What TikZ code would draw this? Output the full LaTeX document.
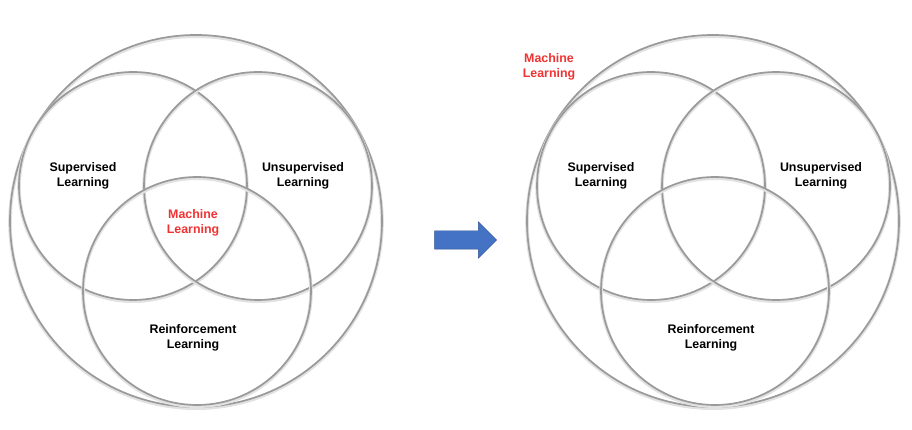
\documentclass[tikz,border=0pt]{standalone}
\usepackage{fontspec}
\setmainfont{Liberation Sans}
\usetikzlibrary{positioning, shapes.arrows}

\definecolor{ringgray}{HTML}{9A9A9A}
\definecolor{ringshade}{HTML}{E2E2E2}
\definecolor{mlred}{HTML}{F03232}
\definecolor{arrowblue}{HTML}{4472C4}
\definecolor{arrowedge}{HTML}{2F528F}

\begin{document}
\begin{tikzpicture}[
    x=1pt, y=-1pt,
    ring/.style={circle, draw=ringgray, line width=1.7pt, inner sep=0pt,
        preaction={draw=ringshade, line width=3.6pt, transform canvas={yshift=-1.2pt}}},
    bigring/.style={ring, minimum size=372pt},
    smallring/.style={ring, minimum size=228pt},
    mylabel/.style={align=center, font=\bfseries\fontsize{12.4}{15}\selectfont},
    mlabel/.style={mylabel, text=mlred},
    myarrow/.style={single arrow, fill=arrowblue, draw=arrowedge, line width=0.4pt,
        minimum height=62pt, minimum width=36pt, single arrow head extend=9pt, inner sep=9pt}
]
    \useasboundingbox (0,0) rectangle (912,430);

    \node[bigring] (outer) at (196,221) {};
    \node[smallring] (supervised) at (133,186) {};
    \node[smallring] (unsupervised) at (258,186) {};
    \node[smallring] (reinforcement) at (197,291) {};

    \node[mylabel] (suplabel) at (83,176) {Supervised\\Learning};
    \node[mylabel] (unsuplabel) at (303,176) {Unsupervised\\Learning};
    \node[mylabel] (reinlabel) at (193,338) {Reinforcement\\Learning};
    \node[mlabel] (mllabel) at (193,223) {Machine\\Learning};

    \node[myarrow] (arrow) at (461,240) {};

    \node[bigring] (outer2) at (713,221) {};
    \node[smallring] (supervised2) at (651,186) {};
    \node[smallring] (unsupervised2) at (776,186) {};
    \node[smallring] (reinforcement2) at (715,291) {};

    \node[mylabel] (suplabel2) at (601,176) {Supervised\\Learning};
    \node[mylabel] (unsuplabel2) at (821,176) {Unsupervised\\Learning};
    \node[mylabel] (reinlabel2) at (711,338) {Reinforcement\\Learning};
    \node[mlabel] (mllabel2) at (549,67) {Machine\\Learning};

\end{tikzpicture}
\end{document}
